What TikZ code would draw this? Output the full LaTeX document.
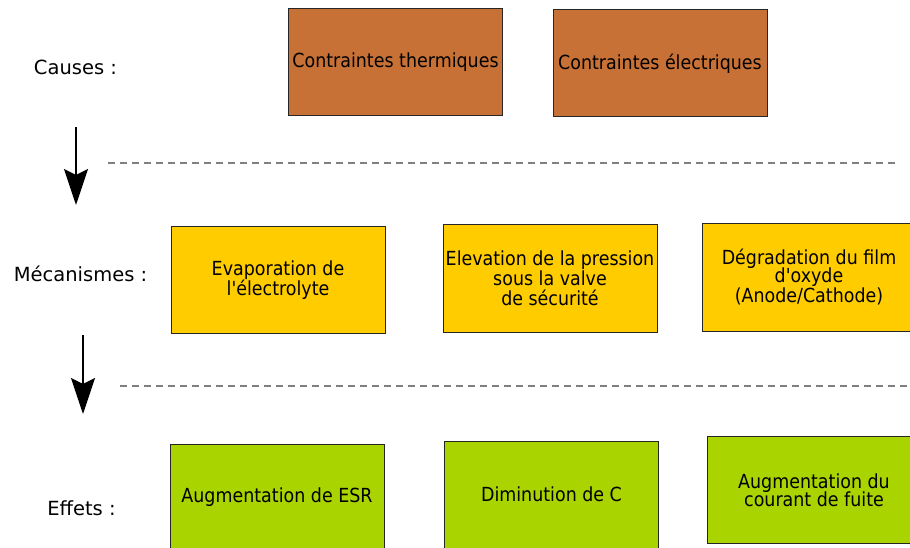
\documentclass[tikz,border=0pt]{standalone}
\usepackage{fontspec}
\usepackage{tikz}
\usepackage{xcolor}
\usetikzlibrary{arrows.meta,positioning}
\setmainfont{DejaVu Sans}
\newfontfamily\boxfont{DejaVu Sans}[FakeStretch=0.9]
\definecolor{rust}{RGB}{200,113,55}
\definecolor{amber}{RGB}{255,204,0}
\definecolor{lime}{RGB}{170,212,0}
\definecolor{dashgray}{RGB}{128,128,128}

\begin{document}
\begin{tikzpicture}[x=1pt, y=-1pt,
  levelbox/.style={draw=black!85, line width=1pt, minimum width=214pt, minimum height=107pt,
    inner sep=0pt, align=center, font=\boxfont\fontsize{19.4}{20}\selectfont},
  levellabel/.style={font=\fontsize{19.5}{22}\selectfont},
  separator/.style={dashgray, line width=1.5pt, dash pattern=on 7pt off 5pt},
  flow/.style={line width=2pt, -{Stealth[length=36pt, width=24pt, inset=6pt]}}]
\useasboundingbox (0,0) rectangle (910,548);

% Causes
\node[levellabel] (causes) at (75.5,67) {Causes :};
\node[levelbox, fill=rust] (thermal) at (395.5,62.5) {Contraintes thermiques};
\node[levelbox, fill=rust] (electric) at (660,63.5) {Contraintes électriques};

\coordinate (a1top) at (76,127);
\coordinate (a1bot) at (76,205);
\draw[flow] (a1top) -- (a1bot);
\coordinate (sep1l) at (108,163);
\coordinate (sep1r) at (895,163);
\draw[separator] (sep1l) -- (sep1r);

% Mecanismes
\node[levellabel] (mecanismes) at (80.5,274) {Mécanismes :};
\node[levelbox, fill=amber] (evap) at (278,280) {Evaporation de\\l'électrolyte};
\node[levelbox, fill=amber] (pression) at (550,278.5) {Elevation de la pression\\sous la valve\\de sécurité};
\node[levelbox, fill=amber] (oxyde) at (809,277.5) {Dégradation du film\\[-2pt]d'oxyde\\(Anode/Cathode)};

\coordinate (a2top) at (83,335);
\coordinate (a2bot) at (83,414);
\draw[flow] (a2top) -- (a2bot);
\coordinate (sep2l) at (120,386);
\coordinate (sep2r) at (910,386);
\draw[separator] (sep2l) -- (sep2r);

% Effets
\node[levellabel] (effets) at (81.5,508) {Effets :};
\node[levelbox, fill=lime] (esr) at (277,497.5) {Augmentation de ESR};
\node[levelbox, fill=lime] (capa) at (551.5,494.5) {Diminution de C};
\node[levelbox, fill=lime] (fuite) at (814,490) {Augmentation du\\[-2pt]courant de fuite};
\end{tikzpicture}
\end{document}
